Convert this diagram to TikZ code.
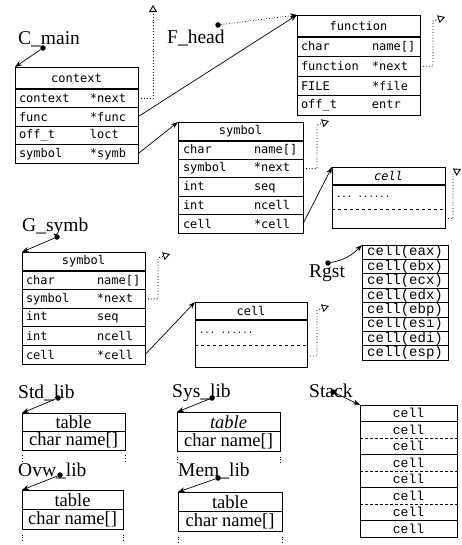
\documentclass[tikz,border=0pt]{standalone}
\usepackage{fontspec}
\setmainfont{Liberation Serif}
\setmonofont{DejaVu Sans Mono}
\newfontfamily\regfont{Liberation Mono}
\usetikzlibrary{arrows.meta,positioning}
\newcommand\member[2]{\makebox[115pt][l]{\makebox[71pt][l]{#1}#2}}
\tikzset{
  fld/.style={draw,line width=0.9pt,outer sep=0pt,inner sep=0pt,minimum width=123pt,
              minimum height=18.5pt,font=\fontsize{12}{14}\selectfont\ttfamily},
  hdr/.style={fld,minimum height=22pt,anchor=north west},
  cellbox/.style={fld,minimum width=113pt,minimum height=18pt},
  tblbox/.style={draw,line width=0.9pt,outer sep=0pt,inner sep=0pt,minimum width=103pt,
              minimum height=18.5pt,font=\fontsize{18.5}{19}\selectfont},
  regrow/.style={draw,line width=0.9pt,outer sep=0pt,inner sep=0pt,minimum width=86pt,
              minimum height=14.4pt,font=\fontsize{14}{15}\regfont},
  stkrow/.style={outer sep=0pt,inner sep=0pt,minimum width=97pt,minimum height=16.5pt,
              font=\fontsize{13}{14}\regfont},
  sep/.style={line width=2.4pt},
  ptr/.style={-{Stealth[length=7pt,width=5pt]},line width=0.7pt},
  nxt/.style={dotted,line width=0.9pt,-{Triangle[open,length=7pt,width=8pt,line width=0.9pt]}},
  pdot/.style={circle,fill,inner sep=0pt,minimum size=5.5pt},
  lbl/.style={font=\fontsize{19.5}{21}\selectfont,inner sep=0pt,anchor=base west},
  tick/.style={dotted,line width=0.8pt},
}
\begin{document}
\begin{tikzpicture}[x=1pt,y=-1pt]
\useasboundingbox (0,0) rectangle (462,545);
% context struct
\node[hdr] (ctx) at (15,67) {context};
\node[fld,below=0pt of ctx] (ctx1) {\member{context}{*next}};
\node[fld,below=0pt of ctx1] (ctx2) {\member{func}{*func}};
\node[fld,below=0pt of ctx2] (ctx3) {\member{off\_t}{loct}};
\node[fld,below=0pt of ctx3] (ctx4) {\member{symbol}{*symb}};
\draw[sep] (ctx.south west) -- (ctx.south east);
% function struct
\node[hdr] (fun) at (297,15) {function};
\node[fld,minimum height=19.5pt,below=0pt of fun] (fun1) {\member{char}{name[]}};
\node[fld,minimum height=19.5pt,below=0pt of fun1] (fun2) {\member{function}{*next}};
\node[fld,minimum height=19.5pt,below=0pt of fun2] (fun3) {\member{FILE}{*file}};
\node[fld,minimum height=19.5pt,below=0pt of fun3] (fun4) {\member{off\_t}{entr}};
\draw[sep] (fun.south west) -- (fun.south east);
% symbol struct (top)
\node[hdr,minimum width=125pt,minimum height=19pt] (sym) at (178,122) {symbol};
\node[fld,minimum width=125pt,minimum height=18.4pt,below=0pt of sym] (sym1) {\member{char}{name[]}};
\node[fld,minimum width=125pt,minimum height=18.4pt,below=0pt of sym1] (sym2) {\member{symbol}{*next}};
\node[fld,minimum width=125pt,minimum height=18.4pt,below=0pt of sym2] (sym3) {\member{int}{seq}};
\node[fld,minimum width=125pt,minimum height=18.4pt,below=0pt of sym3] (sym4) {\member{int}{ncell}};
\node[fld,minimum width=125pt,minimum height=18.4pt,below=0pt of sym4] (sym5) {\member{cell}{*cell}};
\draw[sep] (sym.south west) -- (sym.south east);
% cell struct (top)
\node[cellbox,anchor=north west] (cel) at (332,167) {\itshape cell};
\node[cellbox,draw=none,minimum height=24pt,below=0pt of cel] (celA) {\makebox[105pt][l]{\fontsize{9}{10}\selectfont ... ......}};
\node[cellbox,draw=none,minimum height=19pt,below=0pt of celA] (celB) {};
\draw[line width=0.9pt] (celA.north west) rectangle (celB.south east);
\draw[dashed] (celA.south west) -- (celA.south east);
\draw[sep] (cel.south west) -- (cel.south east);
% symbol struct (G_symb)
\node[hdr,minimum height=19pt] (gsym) at (22,252) {symbol};
\node[fld,minimum height=18.6pt,below=0pt of gsym] (gsym1) {\member{char}{name[]}};
\node[fld,minimum height=18.6pt,below=0pt of gsym1] (gsym2) {\member{symbol}{*next}};
\node[fld,minimum height=18.6pt,below=0pt of gsym2] (gsym3) {\member{int}{seq}};
\node[fld,minimum height=18.6pt,below=0pt of gsym3] (gsym4) {\member{int}{ncell}};
\node[fld,minimum height=18.6pt,below=0pt of gsym4] (gsym5) {\member{cell}{*cell}};
\draw[sep] (gsym.south west) -- (gsym.south east);
% cell struct (lower)
\node[cellbox,minimum width=112pt,anchor=north west] (gcel) at (195,302) {cell};
\node[cellbox,minimum width=112pt,draw=none,minimum height=25pt,below=0pt of gcel] (gcelA) {\makebox[104pt][l]{\fontsize{9}{10}\selectfont ... ......}};
\node[cellbox,minimum width=112pt,draw=none,minimum height=22pt,below=0pt of gcelA] (gcelB) {};
\draw[line width=0.9pt] (gcelA.north west) rectangle (gcelB.south east);
\draw[dashed] (gcelA.south west) -- (gcelA.south east);
\draw[sep] (gcel.south west) -- (gcel.south east);
% registers
\foreach \r [count=\i] in {eax,ebx,ecx,edx,ebp,esi,edi,esp}
  \node[regrow,anchor=north west] (rg\i) at (362,{245+(\i-1)*14.4}) {cell(\r)};
% stack
\foreach \i in {1,...,8}
  \node[stkrow,anchor=north west] (st\i) at (360,{405+(\i-1)*16.5}) {cell};
\draw[line width=0.9pt] (st1.north west) rectangle (st8.south east);
\foreach \i in {1,3,5,7} \draw (st\i.south west) -- (st\i.south east);
\foreach \i in {2,4,6} \draw[densely dashed] (st\i.south west) -- (st\i.south east);
% library tables
\node[tblbox,anchor=north west] (std) at (22,413) {table};
\node[tblbox,below=0pt of std] (stdr) {char name[]};
\node[tblbox,anchor=north west,minimum width=101pt,minimum height=19.5pt] (ovw) at (22,490) {table};
\node[tblbox,minimum width=101pt,minimum height=20pt,below=0pt of ovw] (ovwr) {char name[]};
\node[tblbox,anchor=north west,minimum height=19.5pt] (sys) at (177,412) {\itshape table};
\node[tblbox,minimum height=20pt,below=0pt of sys] (sysr) {char name[]};
\node[tblbox,anchor=north west,minimum width=104pt,minimum height=19.5pt] (mem) at (178,492) {table};
\node[tblbox,minimum width=104pt,minimum height=20pt,below=0pt of mem] (memr) {char name[]};
\foreach \b in {stdr,ovwr,sysr,memr} {
  \draw[tick] ([yshift=-5pt]\b.south west) -- ([yshift=-12pt]\b.south west);
  \draw[tick] ([yshift=-5pt]\b.south east) -- ([yshift=-12pt]\b.south east);
}
% labels and their pointers
\node[lbl] (cmain) at (18,45) {C\_main};
\node[lbl] (fhead) at (167,44) {F\_head};
\node[lbl] (gsymb) at (22,231) {G\_symb};
\node[lbl] (rgst) at (309,277) {Rgst};
\node[lbl] (stack) at (309,397) {Stack};
\node[lbl] (stdlib) at (18,398) {Std\_lib};
\node[lbl] (syslib) at (172,397) {Sys\_lib};
\node[lbl] (ovwlib) at (18,476) {Ovw\_lib};
\node[lbl] (memlib) at (178,476) {Mem\_lib};
\node[pdot] (cmaind) at (43,48) {};
\node[pdot] (fheadd) at (218,25) {};
\node[pdot] (gsymbd) at (57,237) {};
\node[pdot] (rgstd) at (328,263) {};
\node[pdot] (stackd) at (333,392) {};
\node[pdot] (stdlibd) at (58,398) {};
\node[pdot] (syslibd) at (212,398) {};
\node[pdot] (ovwlibd) at (60,475) {};
\node[pdot] (memlibd) at (218,478) {};
\draw[ptr] (cmaind) -- (ctx.north west);
\draw[ptr,dotted] (fheadd) -- (fun.north west);
\draw[ptr] (gsymbd) -- (gsym.north west);
\draw[ptr] (rgstd) to[out=10,in=225] (rg1.north west);
\draw[ptr] (stackd) -- (st1.north west);
\draw[ptr] (stdlibd) -- (std.north west);
\draw[ptr] (syslibd) -- (sys.north west);
\draw[ptr] (ovwlibd) -- (ovw.north west);
\draw[ptr] (memlibd) -- (mem.north west);
% member pointers
\draw[ptr] (ctx2.east) -- (fun.north west);
\draw[ptr] (ctx4.east) -- (sym.north west);
\draw[ptr] (sym5.east) -- (cel.north west);
\draw[ptr] (gsym5.east) -- (gcel.north west);
% next pointers
\coordinate (ctxnx) at (153,5);
\coordinate (funnx) at (433,21);
\coordinate (funtip) at (445,17);
\coordinate (symnx) at (317,125);
\coordinate (symtip) at (329,121);
\coordinate (celnx) at (453,173);
\coordinate (celtip) at (461,169);
\coordinate (gsymnx) at (158,258);
\coordinate (gsymtip) at (170,254);
\coordinate (gcelnx) at (317,310);
\coordinate (gceltip) at (329,306);
\draw[nxt] (ctx1.east) -| (ctxnx);
\draw[nxt] (fun2.east) -| (funnx) -- (funtip);
\draw[nxt] (sym2.east) -| (symnx) -- (symtip);
\draw[nxt] (celB.east) -| (celnx) -- (celtip);
\draw[nxt] (gsym2.east) -| (gsymnx) -- (gsymtip);
\draw[nxt] (gcelB.east) -| (gcelnx) -- (gceltip);
\end{tikzpicture}
\end{document}
